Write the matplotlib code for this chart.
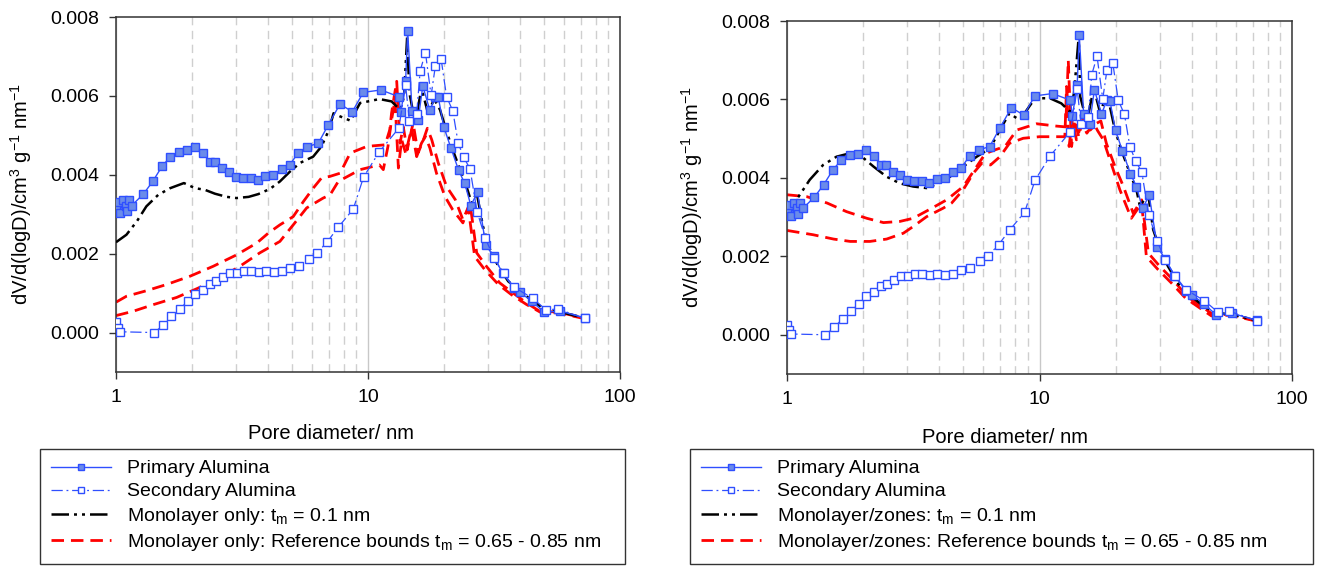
import matplotlib
matplotlib.use("Agg")
import matplotlib.pyplot as plt
from matplotlib.ticker import FixedLocator, FormatStrFormatter, LogLocator, NullFormatter

plt.rcParams['font.family'] = ['Liberation Sans', 'DejaVu Sans']
plt.rcParams['mathtext.fontset'] = 'custom'
plt.rcParams['mathtext.rm'] = 'Liberation Sans'
plt.rcParams['mathtext.it'] = 'Liberation Sans:italic'

# ---- measured data (both panels) ----
prim_d = [1.00, 1.016, 1.037, 1.069, 1.093, 1.103, 1.126, 1.154, 1.284, 1.398, 1.522, 1.643, 1.773,
          1.907, 2.05, 2.21, 2.36, 2.47, 2.63, 2.80, 2.99, 3.18, 3.42, 3.66, 3.91, 4.21, 4.54, 4.90,
          5.29, 5.74, 6.35, 6.95, 7.74, 8.67, 9.58, 11.26, 13.24, 13.5, 14.1, 14.37, 14.96, 15.8,
          16.5, 17.6, 18.5, 19.0, 20.0, 21.3, 22.9, 24.2, 25.6, 27.2, 29.3, 31.5, 34.2, 38.0, 40.1,
          44.8, 50.0, 57.6, 72.5]
prim_v = [0.0032, 0.00332, 0.00303, 0.00337, 0.00322, 0.00307, 0.00337, 0.00322, 0.00351, 0.00383,
          0.00421, 0.00446, 0.00459, 0.00462, 0.0047, 0.00455, 0.00432, 0.00432, 0.00416, 0.00408,
          0.00394, 0.00391, 0.00391, 0.00387, 0.00397, 0.0040, 0.00414, 0.00426, 0.00456, 0.00471,
          0.0048, 0.00526, 0.00579, 0.0056, 0.00609, 0.00615, 0.00598, 0.00558, 0.00637, 0.00765,
          0.00562, 0.00538, 0.00625, 0.00563, 0.00598, 0.00597, 0.00521, 0.00469, 0.00411, 0.00378,
          0.00322, 0.00356, 0.00223, 0.00193, 0.00151, 0.00112, 0.00102, 0.00079, 0.00051, 0.00055,
          0.00037]

sec_d = [1.0, 1.016, 1.037, 1.42, 1.54, 1.66, 1.79, 1.925, 2.06, 2.21, 2.35, 2.49, 2.65, 2.83, 3.01,
         3.22, 3.42, 3.68, 3.94, 4.22, 4.54, 4.90, 5.32, 5.81, 6.28, 6.89, 7.62, 8.74, 9.6, 11.05,
         13.25, 14.1, 14.6, 15.6, 16.1, 16.9, 17.8, 18.5, 19.5, 20.5, 21.7, 22.8, 24.0, 25.4, 27.1,
         29.2, 31.5, 34.5, 38.0, 45.0, 51.0, 56.5, 72.5]
sec_v = [0.00026, 0.00012, 0.00002, 0.0, 0.00019, 0.00041, 0.0006, 0.00079, 0.00098, 0.00109,
         0.00124, 0.0013, 0.0014, 0.00151, 0.00151, 0.00155, 0.00155, 0.00153, 0.00155, 0.00153,
         0.00155, 0.00164, 0.0017, 0.00187, 0.00202, 0.0023, 0.00267, 0.00313, 0.00394, 0.00457,
         0.00518, 0.00627, 0.00537, 0.00555, 0.00663, 0.0071, 0.00601, 0.00675, 0.00694, 0.00598,
         0.00562, 0.0048, 0.00444, 0.00415, 0.00306, 0.0024, 0.0019, 0.0015, 0.00115, 0.00087,
         0.00057, 0.0006, 0.00036]

# ---- left panel: monolayer only ----
mono1_d = [1.0, 1.1, 1.21, 1.32, 1.47, 1.64, 1.86, 2.06, 2.25, 2.47, 2.75, 3.01, 3.36, 3.67, 4.08,
           4.47, 4.90, 5.37, 6.06, 6.54, 7.0, 7.3, 7.75, 8.53, 9.3, 10.0, 11.1, 12.4, 13.4, 13.9,
           14.3, 14.6, 15.4, 16.3, 17.3, 18.3, 19.3, 20.5, 21.7, 23.2, 24.6, 25.8, 27.0, 28.6, 30.5,
           32.9, 36.0, 40.1, 45.2, 50.5, 58.0, 72.5]
mono1_v = [0.00229, 0.00248, 0.00282, 0.0032, 0.00349, 0.00366, 0.00379, 0.00366, 0.00362, 0.00352,
           0.00344, 0.00341, 0.00344, 0.00351, 0.00364, 0.00383, 0.00408, 0.0043, 0.00446, 0.00472,
           0.00514, 0.00556, 0.00548, 0.00537, 0.00582, 0.00586, 0.00592, 0.00586, 0.00565, 0.00598,
           0.0075, 0.00607, 0.00531, 0.0062, 0.00556, 0.00592, 0.00565, 0.0051, 0.00463, 0.00413,
           0.0037, 0.00328, 0.00354, 0.00269, 0.0021, 0.00168, 0.0013, 0.00105, 0.00079, 0.00058,
           0.00052, 0.00037]

ref1_hi_d = [1.0, 1.1, 1.32, 1.59, 1.97, 2.43, 3.01, 3.62, 4.02, 4.47, 5.05, 5.54, 6.06, 6.54, 7.07,
             7.75, 8.5, 9.9, 11.7, 12.2, 12.4, 12.7, 13.0, 13.4, 13.8, 14.3, 15.1, 15.8, 16.6, 17.2,
             17.9, 19.0, 20.5, 22.2, 23.8, 25.4, 27.0, 29.5, 33.3, 37.7, 42.6, 48.0, 57.0, 72.5]
ref1_hi_v = [0.00077, 0.00092, 0.00106, 0.00122, 0.00143, 0.00168, 0.00197, 0.00227, 0.00252,
             0.00273, 0.00294, 0.00332, 0.00366, 0.00392, 0.00396, 0.00404, 0.00455, 0.00472,
             0.00476, 0.00514, 0.00556, 0.00598, 0.00637, 0.0048, 0.00522, 0.00463, 0.00531,
             0.00455, 0.00489, 0.00518, 0.00489, 0.0043, 0.0037, 0.00337, 0.00286, 0.00328,
             0.00202, 0.00168, 0.00126, 0.001, 0.00075, 0.00054, 0.00052, 0.00036]

ref1_lo_d = [1.0, 1.17, 1.41, 1.74, 2.09, 2.51, 3.1, 3.72, 4.47, 5.05, 5.71, 6.64, 7.07, 7.62, 9.3,
             11.1, 11.5, 12.0, 12.4, 12.8, 13.2, 13.6, 14.1, 14.9, 15.6, 16.3, 16.9, 17.6, 18.7,
             20.2, 21.7, 23.8, 25.0, 26.5, 29.1, 32.9, 37.1, 42.6, 48.8, 57.0, 72.5]
ref1_lo_v = [0.00043, 0.00054, 0.00071, 0.00089, 0.00111, 0.00134, 0.00168, 0.00202, 0.00231,
             0.00273, 0.00316, 0.00341, 0.00349, 0.00383, 0.00413, 0.00425, 0.00413, 0.00472,
             0.00539, 0.0059, 0.00417, 0.00489, 0.00455, 0.00518, 0.00446, 0.0048, 0.00497,
             0.00468, 0.00404, 0.00345, 0.00311, 0.00278, 0.00316, 0.00193, 0.00159, 0.00122,
             0.00096, 0.00071, 0.0005, 0.0005, 0.00035]

# ---- right panel: monolayer/zones ----
mono2_d = [1.0, 1.09, 1.23, 1.39, 1.57, 1.78, 1.98, 2.2, 2.48, 2.8, 3.16, 3.57, 3.98, 4.42, 4.99,
           5.64, 6.36, 6.97, 7.6, 8.13, 8.62, 9.6, 11.0, 12.2, 13.2, 13.7, 14.3, 14.5, 15.4, 16.4,
           17.4, 18.1, 19.0, 19.9, 21.1, 22.8, 24.2, 25.0, 26.9, 28.2, 30.0, 32.3, 36.0, 40.6,
           45.8, 51.9, 58.5, 71.0]
mono2_v = [0.00301, 0.00344, 0.00395, 0.00433, 0.00454, 0.00463, 0.00454, 0.00429, 0.00403, 0.00386,
           0.00378, 0.00374, 0.00386, 0.00403, 0.00429, 0.00454, 0.00475, 0.00522, 0.00565, 0.00552,
           0.0056, 0.00603, 0.00603, 0.0059, 0.00569, 0.00616, 0.0076, 0.00607, 0.00543, 0.00629,
           0.00565, 0.00599, 0.00582, 0.00522, 0.00471, 0.00412, 0.0037, 0.00327, 0.00361, 0.00268,
           0.00217, 0.00174, 0.00123, 0.00094, 0.00068, 0.00055, 0.00051, 0.00038]

ref2_hi_d = [1.0, 1.2, 1.44, 1.72, 2.07, 2.41, 2.8, 3.16, 3.68, 4.29, 4.99, 5.64, 6.1, 6.7, 7.3, 8.13,
             9.74, 11.7, 12.7, 13.0, 13.4, 13.8, 14.3, 14.9, 15.9, 16.8, 17.5, 18.4, 19.9, 21.5,
             23.5, 25.4, 27.0, 30.0, 33.8, 38.4, 43.9, 48.8, 57.0, 72.0]
ref2_hi_v = [0.00357, 0.00352, 0.00336, 0.00314, 0.00297, 0.00286, 0.00289, 0.00297, 0.0032,
             0.00344, 0.00378, 0.00429, 0.00462, 0.00472, 0.0048, 0.00522, 0.00538, 0.00532,
             0.0053, 0.007, 0.0048, 0.00548, 0.00505, 0.00556, 0.00522, 0.00539, 0.00545, 0.00488,
             0.00429, 0.00378, 0.0031, 0.00344, 0.00208, 0.00174, 0.0014, 0.00098, 0.00072,
             0.00051, 0.00052, 0.00036]

ref2_lo_d = [1.0, 1.27, 1.53, 1.78, 2.13, 2.48, 2.89, 3.16, 3.57, 4.16, 4.49, 4.99, 5.47, 5.9, 6.4,
             6.97, 7.6, 8.62, 10.0, 11.7, 12.6, 12.8, 13.1, 13.5, 14.0, 14.7, 15.4, 16.4, 17.0,
             17.9, 19.4, 20.8, 23.1, 25.4, 26.5, 29.5, 33.3, 37.8, 43.2, 48.0, 57.0, 72.0]
ref2_lo_v = [0.00266, 0.00255, 0.00244, 0.00238, 0.00238, 0.00244, 0.00259, 0.00276, 0.00301,
             0.00323, 0.00336, 0.0037, 0.00412, 0.00437, 0.00433, 0.00454, 0.00488, 0.00501,
             0.00505, 0.00505, 0.00505, 0.00633, 0.0048, 0.0055, 0.00497, 0.0054, 0.00514,
             0.00539, 0.0052, 0.00497, 0.00429, 0.0037, 0.00297, 0.00336, 0.00199, 0.00166,
             0.00132, 0.00094, 0.00068, 0.00048, 0.0005, 0.00035]

y_ticks = [0.0, 0.002, 0.004, 0.006, 0.008]
x_ticks = [1, 10, 100]

BLUE = '#2f4fff'
FILL = '#6a8bea'
W, H = 1321, 570

fig = plt.figure(figsize=(W / 100, H / 100), dpi=100)


def make_panel(rect, mono, ref_hi, ref_lo, prefix, legend_rect, xlab_xy):
    ax = fig.add_axes(rect)
    ax.plot(prim_d, prim_v, '-', color=BLUE, lw=1.0, marker='s', ms=6,
            mfc=FILL, mec=BLUE, mew=1.0, label='Primary Alumina', zorder=4)
    ax.plot(sec_d, sec_v, color=BLUE, lw=0.9, ls=(0, (9, 3, 1.5, 3)), marker='s', ms=6,
            mfc='white', mec=BLUE, mew=1.0, label='Secondary Alumina', zorder=5)
    ax.plot(mono[0], mono[1], color='black', lw=1.8, ls=(0, (7, 2, 1.2, 2, 1.2, 2)),
            label=prefix + r': t$_\mathrm{m}$ = 0.1 nm', zorder=3)
    ax.plot(ref_hi[0], ref_hi[1], color='#ff0000', lw=2.0, ls=(0, (4.5, 2.5)),
            label=prefix + r': Reference bounds t$_\mathrm{m}$ = 0.65 - 0.85 nm', zorder=2)
    ax.plot(ref_lo[0], ref_lo[1], color='#ff0000', lw=2.0, ls=(0, (4.5, 2.5)), zorder=2)

    ax.set_xscale('log')
    ax.set_xlim(1, 100)
    ax.set_ylim(-0.001, 0.008)
    ax.xaxis.set_major_locator(FixedLocator(x_ticks))
    ax.xaxis.set_major_formatter(FormatStrFormatter('%g'))
    ax.xaxis.set_minor_locator(LogLocator(base=10, subs=range(2, 10)))
    ax.xaxis.set_minor_formatter(NullFormatter())
    ax.yaxis.set_major_locator(FixedLocator(y_ticks))
    ax.yaxis.set_major_formatter(FormatStrFormatter('%.3f'))
    ax.tick_params(which='major', direction='out', length=5, width=1, labelsize=14, pad=7,
                   color='#333333')
    ax.tick_params(which='minor', length=0)
    ax.grid(which='major', axis='x', color='#c8c8c8', lw=1.0, ls='-')
    ax.grid(which='minor', axis='x', color='#cfcfcf', lw=1.0, ls=(0, (6, 4)))
    ax.set_axisbelow(True)
    for s in ax.spines.values():
        s.set_color('#333333')
        s.set_linewidth(1.1)
    ax.set_xlabel('Pore diameter/ nm', fontsize=14.5)
    ax.xaxis.set_label_coords(*xlab_xy)
    ax.set_ylabel(r'dV/d(logD)/cm$^{3}$ g$^{-1}$ nm$^{-1}$', fontsize=14.5, labelpad=12)

    leg = ax.legend(loc='upper left', bbox_to_anchor=legend_rect, bbox_transform=fig.transFigure,
                    mode='expand', fontsize=14, frameon=True, fancybox=False, framealpha=1,
                    edgecolor='#333333', handlelength=3.1, handletextpad=0.8, labelspacing=0.28,
                    borderpad=0.55, borderaxespad=0, markerscale=0.7)
    leg.get_frame().set_linewidth(1.0)
    return ax


make_panel([116 / W, 1 - 372 / H, 504 / W, 355 / H], (mono1_d, mono1_v),
           (ref1_hi_d, ref1_hi_v), (ref1_lo_d, ref1_lo_v), 'Monolayer only',
           (40 / W, 0.0, 585 / W, 1 - 449 / H), (0.427, -0.146))
make_panel([787 / W, 1 - 374 / H, 505 / W, 353 / H], (mono2_d, mono2_v),
           (ref2_hi_d, ref2_hi_v), (ref2_lo_d, ref2_lo_v), 'Monolayer/zones',
           (690 / W, 0.0, 623 / W, 1 - 449 / H), (0.432, -0.153))

fig.savefig('out.png', dpi=100)
